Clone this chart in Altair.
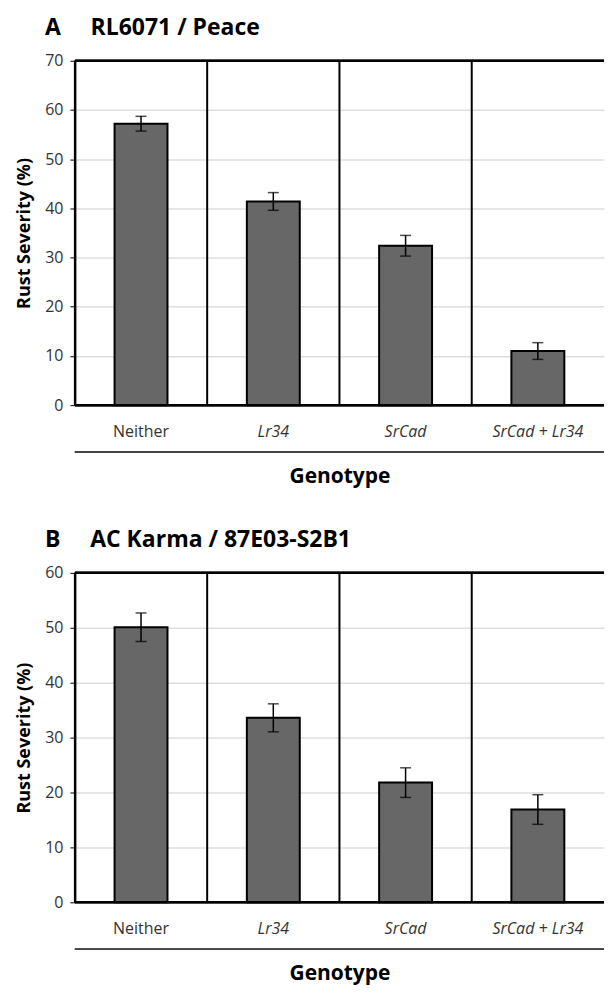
import altair as alt
import pandas as pd

genotypes = ["Neither", "Lr34", "SrCad", "SrCad + Lr34"]

severity_a = [57.2, 41.4, 32.4, 11.0]
error_a = [1.5, 1.8, 2.1, 1.7]
ticks_a = [0, 10, 20, 30, 40, 50, 60, 70]

severity_b = [50.1, 33.6, 21.8, 16.9]
error_b = [2.6, 2.55, 2.7, 2.7]
ticks_b = [0, 10, 20, 30, 40, 50, 60]

FONT = "Open Sans"
W = 530  # plot width (right edge near the page edge)


def panel(letter, name, values, errors, ticks, height):
    ymax = ticks[-1]
    df = pd.DataFrame({"genotype": genotypes, "severity": values, "err": errors})
    df["lo"] = df["severity"] - df["err"]
    df["hi"] = df["severity"] + df["err"]

    yscale = alt.Scale(domain=[0, ymax], nice=False)
    ytitle = "Rust Severity (%)"
    xscale = alt.Scale(paddingInner=0, paddingOuter=0)
    xaxis = alt.Axis(
        title="Genotype",
        labelAngle=0,
        ticks=False,
        domain=False,
        labelPadding=18,
        labelFontStyle={
            "condition": {"test": "datum.value == 'Neither'", "value": "normal"},
            "value": "italic",
        },
        titlePadding=26,
    )
    xenc = alt.X("genotype:N", sort=genotypes, scale=xscale, axis=xaxis, title="Genotype")

    base = alt.Chart(df)

    bars = base.mark_bar(
        width=alt.RelativeBandSize(0.4), color="#676767", stroke="black", strokeWidth=2
    ).encode(
        x=xenc,
        y=alt.Y(
            "severity:Q",
            scale=yscale,
            title=ytitle,
            axis=alt.Axis(values=ticks, grid=True),
        ),
    )

    err = base.mark_rule(color="black", strokeWidth=1.5).encode(
        x=xenc, y=alt.Y("lo:Q", scale=yscale, title=ytitle), y2="hi:Q"
    )
    cap_hi = base.mark_tick(orient="horizontal", size=11, thickness=1.5, color="black").encode(
        x=xenc, y=alt.Y("hi:Q", scale=yscale, title=ytitle)
    )
    cap_lo = base.mark_tick(orient="horizontal", size=11, thickness=1.5, color="black").encode(
        x=xenc, y=alt.Y("lo:Q", scale=yscale, title=ytitle)
    )

    seps = base.mark_rule(color="black", strokeWidth=2).encode(
        x=alt.X("genotype:N", sort=genotypes, scale=xscale, axis=xaxis,
                title="Genotype", bandPosition=0)
    )
    top = base.mark_rule(color="black", strokeWidth=2).encode(
        y=alt.datum(ymax, scale=yscale, title=ytitle)
    )
    bottom = base.mark_rule(color="black", strokeWidth=2).encode(
        y=alt.datum(0, scale=yscale, title=ytitle)
    )
    underline = base.mark_rule(color="#444444", strokeWidth=1.5).encode(
        x=alt.value(0), x2=alt.value(W), y=alt.value(height + 47)
    )

    return alt.layer(bars, err, cap_hi, cap_lo, seps, top, bottom, underline).properties(
        width=W,
        height=height,
        title=alt.Title(
            text=f"{letter}\u00a0\u00a0\u00a0\u00a0\u00a0{name}",
            anchor="start",
            frame="group",
            dx=-30,
            fontSize=23,
            font=FONT,
            fontWeight="bold",
            color="black",
            offset=13,
        ),
    )


top_panel = panel("A", "RL6071 / Peace", severity_a, error_a, ticks_a, 345)
bottom_panel = panel("B", "AC Karma / 87E03-S2B1", severity_b, error_b, ticks_b, 330)

chart = (
    alt.vconcat(top_panel, bottom_panel, spacing=43)
    .properties(padding={"left": 7, "top": 8, "right": 0, "bottom": 2})
    .configure_view(stroke=None)
    .configure_axis(
        labelFont=FONT,
        labelFontSize=16,
        labelColor="#333333",
        titleFont=FONT,
        titleFontSize=18,
        titleFontWeight="bold",
        titleColor="black",
        domainColor="black",
        domainWidth=2,
        tickColor="black",
        tickWidth=1,
        gridColor="#dedede",
        gridWidth=1.5,
    )
    .configure_axisY(tickSize=5, labelPadding=7, titlePadding=11)
    .configure_axisX(titleFontSize=21)
)

chart.save("out.html", embed_options={"renderer": "svg", "actions": False})
